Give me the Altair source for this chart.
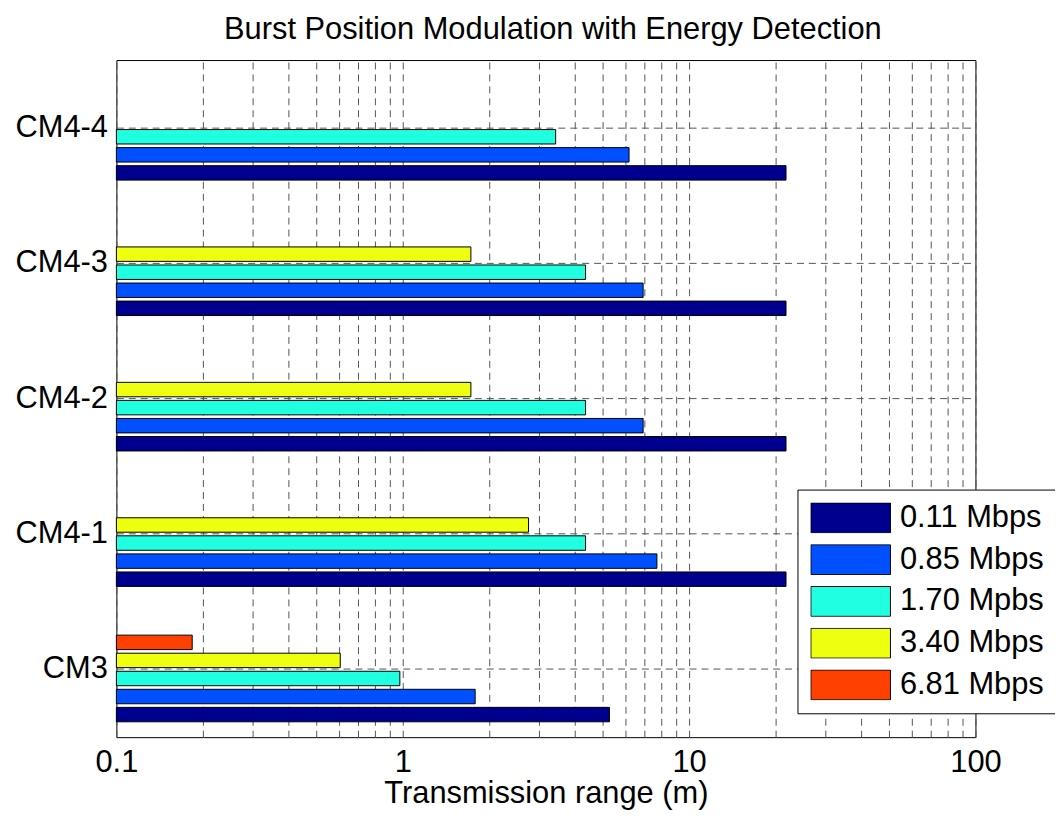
import altair as alt
import pandas as pd

# ---- data ----
categories = ["CM4-4", "CM4-3", "CM4-2", "CM4-1", "CM3"]
series = ["0.11 Mbps", "0.85 Mbps", "1.70 Mpbs", "3.40 Mbps", "6.81 Mbps"]
colors = ["#00008F", "#0050FF", "#20FFDF", "#EFFF10", "#FF4000"]
unused_slot = "(unused)"  # MATLAB reserved a 6th, empty bar slot at the top of each group

range_011 = [21.8, 21.8, 21.8, 21.8, 5.27]
range_085 = [6.17, 6.91, 6.91, 7.72, 1.79]
range_170 = [3.42, 4.35, 4.35, 4.35, 0.977]
range_340 = [None, 1.73, 1.73, 2.75, 0.605]
range_681 = [None, None, None, None, 0.184]

x_tick_values = [0.1, 0.2, 0.3, 0.4, 0.5, 0.6, 0.7, 0.8, 0.9,
                 1, 2, 3, 4, 5, 6, 7, 8, 9,
                 10, 20, 30, 40, 50, 60, 70, 80, 90, 100]

rows = []
for name, vals in zip(series, [range_011, range_085, range_170, range_340, range_681]):
    for cat, v in zip(categories, vals):
        if v is not None:
            rows.append({"cat": cat, "series": name, "range": v})
df = pd.DataFrame(rows)

FONT = "Liberation Sans"
FS = 31
grid_color = "#555555"
grid_dash = [7, 5]

chart = alt.Chart(df).mark_bar(stroke="black", strokeWidth=1).encode(
    x=alt.X(
        "range:Q",
        scale=alt.Scale(type="log", domain=[0.1, 100], nice=False),
        axis=alt.Axis(
            values=x_tick_values,
            labelExpr="datum.value == 0.1 ? '0.1' : datum.value == 1 ? '1' : datum.value == 10 ? '10' : datum.value == 100 ? '100' : ''",
            title="Transmission range (m)",
            grid=True, gridDash=grid_dash, gridColor=grid_color, gridWidth=1,
            ticks=False, domain=False,
            labelFontSize=FS, titleFontSize=FS, labelPadding=11, titlePadding=1,
            labelOverlap=False, labelFlush=False, titleFontWeight="normal",
        ),
    ),
    x2=alt.datum(0.1),
    y=alt.Y(
        "cat:N",
        sort=categories,
        scale=alt.Scale(paddingInner=0.2, paddingOuter=0.1),
        axis=alt.Axis(
            title=None, labelFontSize=FS, ticks=False, labelPadding=9,
            grid=True, gridDash=grid_dash, gridColor=grid_color, gridWidth=1,
            bandPosition=0.5, domain=False,
        ),
    ),
    yOffset=alt.YOffset(
        "series:N",
        scale=alt.Scale(domain=[unused_slot] + series[::-1], paddingInner=0.2, paddingOuter=0.1),
    ),
    color=alt.Color(
        "series:N",
        scale=alt.Scale(domain=series, range=colors),
        legend=alt.Legend(
            title=None, orient="none", legendX=685, legendY=432,
            symbolType="M-1,-0.375H1V0.375H-1Z", symbolSize=6400,
            symbolStrokeColor="black", symbolStrokeWidth=1, symbolOpacity=1,
            clipHeight=31,
            labelFontSize=FS, labelOffset=9, labelLimit=400, rowPadding=10,
            padding=13, strokeColor="black", fillColor="white", labelColor="black",
        ),
    ),
).properties(
    width=864,
    height=681,
    autosize=alt.AutoSizeParams(type="none"),
    padding={"left": 109, "top": 50, "right": 80, "bottom": 84},
    title=alt.Title(
        "Burst Position Modulation with Energy Detection",
        fontSize=FS, fontWeight="normal", anchor="middle", frame="group", dx=7, offset=14,
        color="black",
    ),
).configure(
    font=FONT,
).configure_view(
    stroke="black", strokeWidth=1,
).configure_axis(
    labelColor="black", titleColor="black", labelFont=FONT, titleFont=FONT,
).configure_legend(
    labelFont=FONT,
).configure_title(
    font=FONT,
)

chart.save("out.html", embed_options={"renderer": "svg", "actions": False})
